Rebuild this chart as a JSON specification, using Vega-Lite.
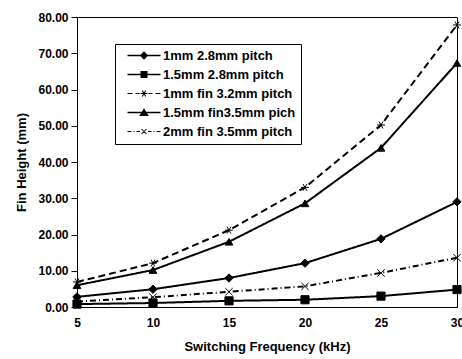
{
  "$schema": "https://vega.github.io/schema/vega-lite/v6.json",
  "width": 380,
  "height": 290,
  "autosize": {"type": "none"},
  "padding": {"left": 77, "top": 17, "right": 5, "bottom": 52},
  "background": "white",
  "config": {
    "view": {"stroke": "#000", "strokeWidth": 1},
    "font": "Liberation Sans"
  },
  "data": {
    "values": [
      {"series": "1mm 2.8mm pitch", "freq": 5, "height": 2.8},
      {"series": "1mm 2.8mm pitch", "freq": 10, "height": 4.9},
      {"series": "1mm 2.8mm pitch", "freq": 15, "height": 8.0},
      {"series": "1mm 2.8mm pitch", "freq": 20, "height": 12.1},
      {"series": "1mm 2.8mm pitch", "freq": 25, "height": 18.8},
      {"series": "1mm 2.8mm pitch", "freq": 30, "height": 29.0},
      {"series": "1.5mm 2.8mm pitch", "freq": 5, "height": 0.8},
      {"series": "1.5mm 2.8mm pitch", "freq": 10, "height": 1.1},
      {"series": "1.5mm 2.8mm pitch", "freq": 15, "height": 1.7},
      {"series": "1.5mm 2.8mm pitch", "freq": 20, "height": 2.0},
      {"series": "1.5mm 2.8mm pitch", "freq": 25, "height": 3.0},
      {"series": "1.5mm 2.8mm pitch", "freq": 30, "height": 4.8},
      {"series": "1mm fin 3.2mm pitch", "freq": 5, "height": 6.9},
      {"series": "1mm fin 3.2mm pitch", "freq": 10, "height": 12.1},
      {"series": "1mm fin 3.2mm pitch", "freq": 15, "height": 21.2},
      {"series": "1mm fin 3.2mm pitch", "freq": 20, "height": 33.0},
      {"series": "1mm fin 3.2mm pitch", "freq": 25, "height": 50.2},
      {"series": "1mm fin 3.2mm pitch", "freq": 30, "height": 77.8},
      {"series": "1.5mm fin3.5mm pich", "freq": 5, "height": 6.0},
      {"series": "1.5mm fin3.5mm pich", "freq": 10, "height": 10.2},
      {"series": "1.5mm fin3.5mm pich", "freq": 15, "height": 18.0},
      {"series": "1.5mm fin3.5mm pich", "freq": 20, "height": 28.6},
      {"series": "1.5mm fin3.5mm pich", "freq": 25, "height": 43.9},
      {"series": "1.5mm fin3.5mm pich", "freq": 30, "height": 67.3},
      {"series": "2mm fin 3.5mm pitch", "freq": 5, "height": 1.5},
      {"series": "2mm fin 3.5mm pitch", "freq": 10, "height": 2.7},
      {"series": "2mm fin 3.5mm pitch", "freq": 15, "height": 4.2},
      {"series": "2mm fin 3.5mm pitch", "freq": 20, "height": 5.7},
      {"series": "2mm fin 3.5mm pitch", "freq": 25, "height": 9.4},
      {"series": "2mm fin 3.5mm pitch", "freq": 30, "height": 13.6}
    ]
  },
  "encoding": {
    "x": {
      "field": "freq",
      "type": "quantitative",
      "scale": {"domain": [5, 30], "nice": false, "zero": false},
      "axis": {
        "values": [5, 10, 15, 20, 25, 30],
        "title": "Switching Frequency (kHz)",
        "titleFont": "Liberation Sans",
        "titleFontSize": 13,
        "titleFontWeight": "bold",
        "titleColor": "#000",
        "titlePadding": 12,
        "labelFont": "Liberation Sans",
        "labelFontSize": 12,
        "labelFontWeight": "bold",
        "labelColor": "#000",
        "labelPadding": 10,
        "labelFlush": false,
        "labelOverlap": false,
        "ticks": false,
        "domainColor": "#000",
        "grid": false
      }
    },
    "y": {
      "field": "height",
      "type": "quantitative",
      "scale": {"domain": [0, 80], "nice": false},
      "axis": {
        "values": [0, 10, 20, 30, 40, 50, 60, 70, 80],
        "format": ".2f",
        "title": "Fin Height (mm)",
        "titleFont": "Liberation Sans",
        "titleFontSize": 13,
        "titleFontWeight": "bold",
        "titleColor": "#000",
        "titlePadding": 9,
        "labelFont": "Liberation Sans",
        "labelFontSize": 12,
        "labelFontWeight": "bold",
        "labelColor": "#000",
        "labelPadding": 3,
        "tickSize": 6,
        "tickColor": "#000",
        "domainColor": "#000",
        "grid": false
      }
    }
  },
  "layer": [
    {
      "mark": {"type": "line", "color": "#000"},
      "encoding": {
        "detail": {"field": "series"},
        "strokeDash": {
          "field": "series",
          "scale": {
            "domain": ["1mm 2.8mm pitch", "1.5mm 2.8mm pitch", "1mm fin 3.2mm pitch", "1.5mm fin3.5mm pich", "2mm fin 3.5mm pitch"],
            "range": [[1, 0], [1, 0], [7, 4], [1, 0], [6, 3, 1, 3]]
          },
          "legend": null
        },
        "strokeWidth": {
          "field": "series",
          "scale": {
            "domain": ["1mm 2.8mm pitch", "1.5mm 2.8mm pitch", "1mm fin 3.2mm pitch", "1.5mm fin3.5mm pich", "2mm fin 3.5mm pitch"],
            "range": [2, 2, 1, 1.6, 1]
          },
          "legend": null
        }
      }
    },
    {
      "mark": {"type": "point", "filled": true, "fill": "#000", "stroke": "#000", "strokeWidth": 1, "opacity": 1},
      "encoding": {
        "shape": {
          "field": "series",
          "scale": {
            "domain": ["1mm 2.8mm pitch", "1.5mm 2.8mm pitch", "1mm fin 3.2mm pitch", "1.5mm fin3.5mm pich", "2mm fin 3.5mm pitch"],
            "range": ["diamond", "square", "M-1,0L1,0M-0.5,-0.87L0.5,0.87M-0.5,0.87L0.5,-0.87", "triangle-up", "M-1,-1L1,1M-1,1L1,-1"]
          },
          "legend": null
        },
        "size": {
          "field": "series",
          "scale": {
            "domain": ["1mm 2.8mm pitch", "1.5mm 2.8mm pitch", "1mm fin 3.2mm pitch", "1.5mm fin3.5mm pich", "2mm fin 3.5mm pitch"],
            "range": [70, 55, 60, 70, 45]
          },
          "legend": null
        }
      }
    },
    {
      "mark": {"type": "point", "filled": true, "fill": "#000", "stroke": "#000", "strokeWidth": 1.5, "opacity": 0},
      "encoding": {
        "shape": {
          "field": "series",
          "scale": {
            "domain": ["1mm 2.8mm pitch", "1.5mm 2.8mm pitch", "1mm fin 3.2mm pitch", "1.5mm fin3.5mm pich", "2mm fin 3.5mm pitch"],
            "range": [
              "M0.2,-0.17L6.8,-0.17L6.8,0.17L0.2,0.17ZM3.5,-0.85L4.35,0L3.5,0.85L2.65,0Z",
              "M0.2,-0.17L6.8,-0.17L6.8,0.17L0.2,0.17ZM2.8,-0.72L4.2,-0.72L4.2,0.72L2.8,0.72Z",
              "M0.2,-0.1L1.2,-0.1L1.2,0.1L0.2,0.1ZM1.8,-0.1L2.6,-0.1L2.6,0.1L1.8,0.1ZM2.8,-0.1L4.2,-0.1L4.2,0.1L2.8,0.1ZM3.236,-0.65L3.936,0.55L3.764,0.65L3.064,-0.55ZM3.064,0.55L3.764,-0.65L3.936,-0.55L3.236,0.65ZM4.4,-0.1L5.2,-0.1L5.2,0.1L4.4,0.1ZM5.8,-0.1L6.8,-0.1L6.8,0.1L5.8,0.1Z",
              "M0.2,-0.15L6.8,-0.15L6.8,0.15L0.2,0.15ZM3.5,-0.85L4.45,0.7L2.55,0.7Z",
              "M0.2,-0.1L1.0,-0.1L1.0,0.1L0.2,0.1ZM1.4,-0.1L1.6,-0.1L1.6,0.1L1.4,0.1ZM2.0,-0.1L2.7,-0.1L2.7,0.1L2.0,0.1ZM3.071,-0.571L4.071,0.429L3.929,0.571L2.929,-0.429ZM2.929,0.429L3.929,-0.571L4.071,-0.429L3.071,0.571ZM4.3,-0.1L5.0,-0.1L5.0,0.1L4.3,0.1ZM5.4,-0.1L5.6,-0.1L5.6,0.1L5.4,0.1ZM6.0,-0.1L6.8,-0.1L6.8,0.1L6.0,0.1Z"
            ]
          },
          "legend": {
            "title": null,
            "orient": "none",
            "legendX": 38,
            "legendY": 27,
            "padding": 5,
            "rowPadding": 5,
            "symbolSize": 100,
            "symbolStrokeWidth": 0,
            "symbolFillColor": "#000",
            "symbolOpacity": 1,
            "labelOffset": 30,
            "labelFont": "Liberation Sans",
            "labelFontSize": 13,
            "labelFontWeight": "bold",
            "labelColor": "#000",
            "labelLimit": 300,
            "fillColor": "#fff",
            "strokeColor": "#000"
          }
        }
      }
    }
  ],
  "resolve": {"scale": {"shape": "independent"}, "legend": {"shape": "independent"}}
}
